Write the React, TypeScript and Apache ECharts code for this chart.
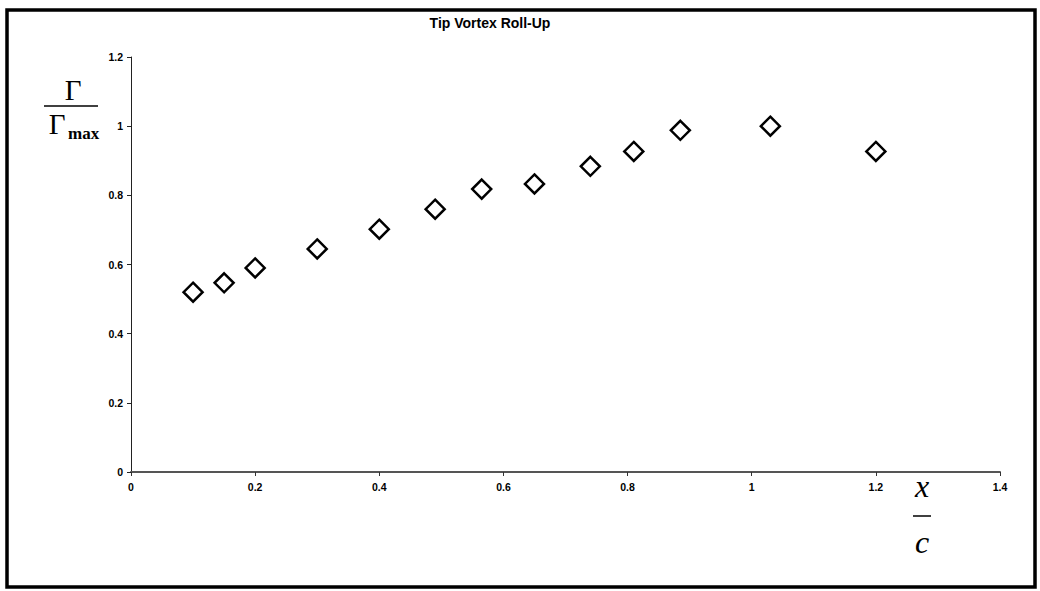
import React, { useEffect, useRef } from "react";
import * as echarts from "echarts";

const xValues = [0.1, 0.15, 0.2, 0.3, 0.4, 0.49, 0.565, 0.65, 0.74, 0.81, 0.885, 1.03, 1.2];
const yValues = [0.52, 0.547, 0.59, 0.645, 0.702, 0.76, 0.818, 0.833, 0.884, 0.927, 0.988, 1.0, 0.927];
const titleText = "Tip Vortex Roll-Up";
const xRange = { min: 0, max: 1.4, interval: 0.2 };
const yRange = { min: 0, max: 1.2, interval: 0.2 };

export default function App() {
  const ref = useRef<HTMLDivElement>(null);
  useEffect(() => {
    if (!ref.current) return;
    const chart = echarts.init(ref.current, null, { renderer: "svg" });
    const data = xValues.map((x, i) => [x, yValues[i]]);
    const serif = "'Liberation Serif', 'DejaVu Serif', serif";
    chart.setOption({
      animation: false,
      backgroundColor: "#ffffff",
      title: {
        text: titleText,
        left: 485,
        top: 11,
        textAlign: "center",
        textStyle: { fontFamily: "'Liberation Sans', Arial, sans-serif", fontSize: 14, fontWeight: "bold", color: "#000" },
      },
      grid: { left: 131, right: 40, top: 57, bottom: 119, containLabel: false },
      xAxis: {
        type: "value",
        min: xRange.min,
        max: xRange.max,
        interval: xRange.interval,
        splitLine: { show: false },
        axisLine: { show: true, onZero: false, lineStyle: { color: "#555", width: 2 } },
        axisTick: { show: true, length: 4, lineStyle: { color: "#333", width: 1 } },
        axisLabel: {
          margin: 9,
          fontFamily: "'Liberation Sans', Arial, sans-serif",
          fontSize: 10.5,
          fontWeight: "bold",
          color: "#000",
        },
      },
      yAxis: {
        type: "value",
        min: yRange.min,
        max: yRange.max,
        interval: yRange.interval,
        splitLine: { show: false },
        axisLine: { show: true, onZero: false, lineStyle: { color: "#222", width: 1 } },
        axisTick: { show: true, length: 4, lineStyle: { color: "#222", width: 1 } },
        axisLabel: {
          margin: 8,
          fontFamily: "'Liberation Sans', Arial, sans-serif",
          fontSize: 10.5,
          fontWeight: "bold",
          color: "#000",
        },
      },
      series: [
        {
          type: "scatter",
          data,
          symbol: "diamond",
          symbolSize: 19,
          itemStyle: { color: "#fff", borderColor: "#000", borderWidth: 2.5, opacity: 1 },
        },
      ],
      graphic: [
        {
          type: "rect",
          shape: { x: 7, y: 10, width: 1028, height: 577 },
          style: { fill: "none", stroke: "#000", lineWidth: 3.5 },
          silent: true,
        },
        {
          type: "text",
          x: 73,
          y: 104,
          style: { text: "Γ", font: `29px ${serif}`, fill: "#000", textAlign: "center", textVerticalAlign: "bottom" },
        },
        {
          type: "line",
          shape: { x1: 44, y1: 106, x2: 98, y2: 106 },
          style: { stroke: "#000", lineWidth: 1.5 },
        },
        {
          type: "text",
          x: 57,
          y: 138,
          style: { text: "Γ", font: `29px ${serif}`, fill: "#000", textAlign: "center", textVerticalAlign: "bottom" },
        },
        {
          type: "text",
          x: 68,
          y: 142,
          style: { text: "max", font: `bold 17px ${serif}`, fill: "#000", textAlign: "left", textVerticalAlign: "bottom" },
        },
        {
          type: "text",
          x: 922,
          y: 502,
          style: { text: "x", font: `italic 32px ${serif}`, fill: "#000", textAlign: "center", textVerticalAlign: "bottom" },
        },
        {
          type: "line",
          shape: { x1: 913, y1: 516, x2: 931, y2: 516 },
          style: { stroke: "#000", lineWidth: 1.5 },
        },
        {
          type: "text",
          x: 922,
          y: 558,
          style: { text: "c", font: `italic 32px ${serif}`, fill: "#000", textAlign: "center", textVerticalAlign: "bottom" },
        },
      ],
    });
    return () => chart.dispose();
  }, []);
  return <div ref={ref} style={{ position: "fixed", left: 0, top: 0, width: 1040, height: 591 }} />;
}
